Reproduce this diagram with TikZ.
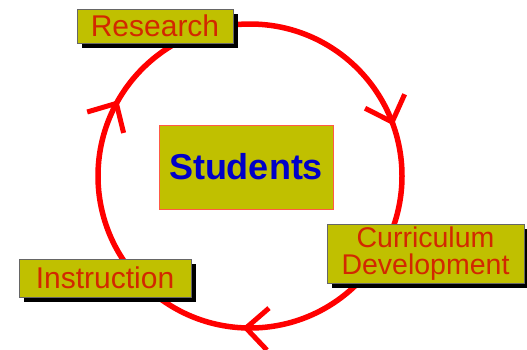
\documentclass[tikz,border=0pt]{standalone}
\usepackage{fontspec}
\setmainfont{Liberation Sans}
\usetikzlibrary{arrows.meta,decorations.markings,shadows}
\definecolor{boxfill}{RGB}{192,192,0}
\definecolor{labeltext}{RGB}{210,40,0}
\definecolor{studtext}{RGB}{0,0,200}
\definecolor{ringred}{RGB}{255,0,0}
\definecolor{studborder}{RGB}{255,90,70}
\tikzset{
  labelbox/.style={draw=black!60, line width=0.6pt, fill=boxfill, text=labeltext,
    inner sep=0pt, align=center,
    drop shadow={shadow xshift=4.5pt, shadow yshift=-4.5pt, fill=black, opacity=1}},
  ring/.style={draw=ringred, line width=5.5pt},
  barb/.tip={Straight Barb[length=22pt,width=42pt,line width=5pt]}
}
\begin{document}
\begin{tikzpicture}[x=1pt,y=1pt]
\useasboundingbox (0,0) rectangle (527,-349);
\coordinate (c) at (250,-176);
% ring with arrowheads (clockwise)
\draw[ring, decoration={markings,
    mark=at position 0.196 with {\arrow[ringred]{barb}},
    mark=at position 0.508 with {\arrow[ringred]{barb}},
    mark=at position 0.833 with {\arrow[ringred]{barb}}},
  postaction={decorate}]
  (250,-24) arc[start angle=90, end angle=-270, radius=152];
% boxes
\node[labelbox, minimum width=156pt, minimum height=34pt, font=\fontsize{30}{30}\selectfont]
  (research) at (155,-26) {Research};
\node[labelbox, minimum width=172pt, minimum height=38pt, font=\fontsize{30}{30}\selectfont]
  (instruction) at (105,-278) {Instruction};
\node[labelbox, minimum width=197pt, minimum height=59pt, font=\fontsize{28.5}{27}\selectfont]
  (curriculum) at (425.5,-253.5) {Curriculum\\Development};
\node[draw=studborder, line width=0.8pt, fill=boxfill, text=studtext,
  minimum width=174pt, minimum height=84pt, inner sep=0pt,
  font=\fontsize{36}{36}\selectfont\bfseries]
  (students) at (246,-167) {Students};
\end{tikzpicture}
\end{document}
